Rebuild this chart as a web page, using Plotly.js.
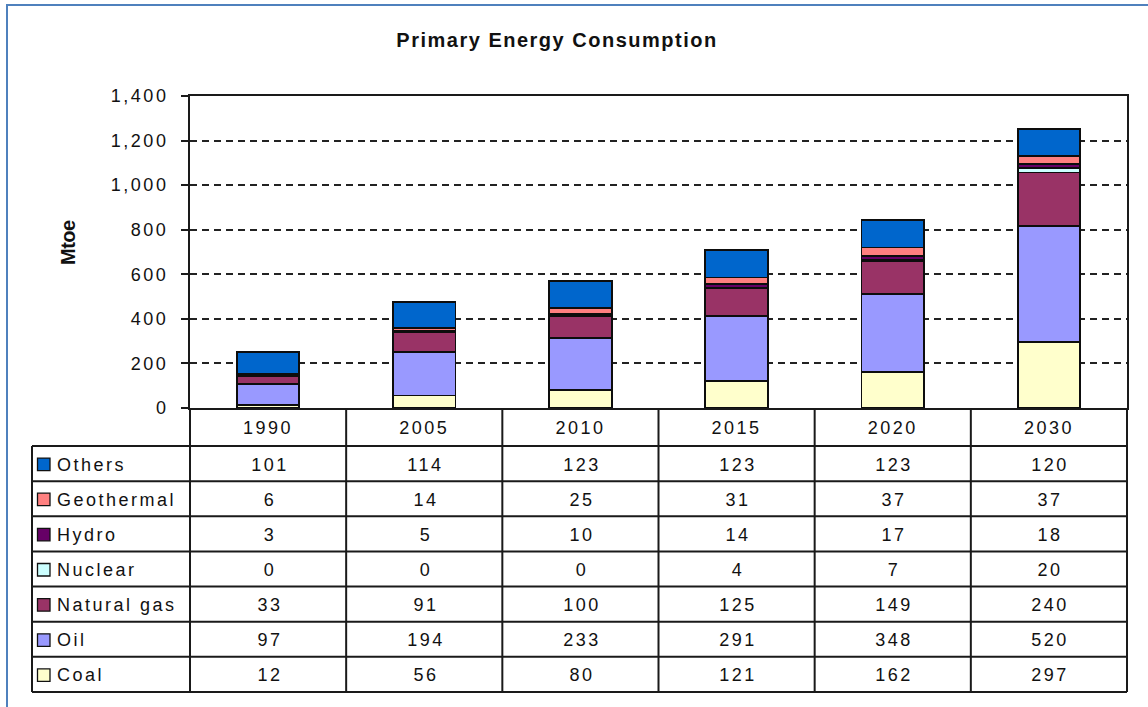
<!DOCTYPE html>
<html><head><meta charset="utf-8">
<script src="https://cdn.plot.ly/plotly-3.0.1.min.js"></script>
<style>
html,body{margin:0;padding:0;background:#fff;}
#chart text{letter-spacing:2.5px;}
#chart .gtitle{letter-spacing:1.5px;}
</style></head>
<body><div id="chart" style="width:1148px;height:707px;"></div>
<script>
// ---- data ----
const years = ['1990','2005','2010','2015','2020','2030'];
const coal = [12, 56, 80, 121, 162, 297];
const oil = [97, 194, 233, 291, 348, 520];
const naturalGas = [33, 91, 100, 125, 149, 240];
const nuclear = [0, 0, 0, 4, 7, 20];
const hydro = [3, 5, 10, 14, 17, 18];
const geothermal = [6, 14, 25, 31, 37, 37];
const others = [101, 114, 123, 123, 123, 120];

// stacking order bottom -> top
const series = [
  {name:'Coal', values:coal, color:'#FFFFCC'},
  {name:'Oil', values:oil, color:'#9999FF'},
  {name:'Natural gas', values:naturalGas, color:'#993366'},
  {name:'Nuclear', values:nuclear, color:'#CCFFFF'},
  {name:'Hydro', values:hydro, color:'#660066'},
  {name:'Geothermal', values:geothermal, color:'#FF8080'},
  {name:'Others', values:others, color:'#0066CC'}
];
const tableOrder = series.slice().reverse();

// ---- geometry (pixels) ----
const FIG_W = 1148, FIG_H = 707;
const L = 190, R = 1127, T = 96, B = 408;
const PW = R - L, PH = B - T;
const px = x => (x - L) / PW;
const py = y => (B - y) / PH;
const TABLE_TOP = 446, TABLE_BOT = 692, TABLE_LEFT = 32;
const ROW_H = (TABLE_BOT - TABLE_TOP) / 7;
const COL_W = PW / years.length;
const FONT = 'Liberation Sans, Arial, sans-serif';
const TXT = '#111111';

const traces = series.map(s => ({
  type:'bar', name:s.name, x:years, y:s.values,
  marker:{color:s.color, line:{color:'#0d0d0d', width:1.8}},
  hoverinfo:'x+y+name'
}));

const shapes = [];
const ln = (x0,y0,x1,y1) => shapes.push({type:'line', xref:'paper', yref:'paper',
  x0:px(x0), y0:py(y0), x1:px(x1), y1:py(y1), line:{color:'#1a1a1a', width:2}});

// outer blue frame
shapes.push({type:'rect', xref:'paper', yref:'paper', x0:px(7), y0:py(5), x1:px(1175), y1:py(740),
  line:{color:'#4F81BD', width:2}, fillcolor:'rgba(0,0,0,0)', layer:'below'});

// table horizontal lines
for (let r = 0; r <= 7; r++) ln(TABLE_LEFT, TABLE_TOP + r*ROW_H, R, TABLE_TOP + r*ROW_H);
// vertical lines
ln(TABLE_LEFT, TABLE_TOP, TABLE_LEFT, TABLE_BOT);
for (let c = 0; c <= years.length; c++) ln(L + c*COL_W, B, L + c*COL_W, TABLE_BOT);

const annotations = [];
tableOrder.forEach((s, r) => {
  const yc = TABLE_TOP + (r + 0.5) * ROW_H;
  shapes.push({type:'rect', xref:'paper', yref:'paper',
    x0:px(37.5), x1:px(50), y0:py(yc - 5.5), y1:py(yc + 7),
    fillcolor:s.color, line:{color:'#111111', width:1.3}});
  annotations.push({xref:'paper', yref:'paper', x:px(55), y:py(yc + 1), xanchor:'left', yanchor:'middle',
    align:'left', text:s.name, showarrow:false, font:{family:FONT, size:18, color:TXT}});
  s.values.forEach((v, c) => {
    annotations.push({xref:'paper', yref:'paper', x:px(L + (c + 0.5)*COL_W + 1.5), y:py(yc + 1),
      xanchor:'center', yanchor:'middle', text:String(v), showarrow:false,
      font:{family:FONT, size:18, color:TXT}});
  });
});

// y-axis title
annotations.push({xref:'paper', yref:'paper', x:px(68), y:py(243), xanchor:'center', yanchor:'middle',
  text:'<span style="letter-spacing:-0.5px"><b>Mtoe</b></span>', textangle:-90, showarrow:false,
  font:{family:FONT, size:20, color:TXT}});

const layout = {
  width:FIG_W, height:FIG_H,
  margin:{l:L, r:FIG_W - R, t:T, b:FIG_H - B},
  paper_bgcolor:'#ffffff', plot_bgcolor:'#ffffff',
  barmode:'stack', bargap:0.6, showlegend:false,
  title:{text:'Primary Energy Consumption', xref:'container', yref:'container',
    x:557/FIG_W, xanchor:'center', y:1 - 40/FIG_H, yanchor:'middle',
    font:{family:FONT, size:20, color:TXT, weight:'bold'}},
  xaxis:{type:'category', showline:true, linecolor:'#1a1a1a', linewidth:2, mirror:true,
    ticks:'', showgrid:false, ticklabelstandoff:2,
    tickfont:{family:FONT, size:18, color:TXT}, fixedrange:true},
  yaxis:{range:[0,1400], dtick:200, tickformat:',', showline:true, linecolor:'#1a1a1a', linewidth:2, mirror:true,
    ticks:'outside', ticklen:7, tickcolor:'#1a1a1a', tickwidth:1.5, ticklabelstandoff:9,
    showgrid:true, gridcolor:'#222222', gridwidth:1.6, griddash:'7px,5px', zeroline:false,
    tickfont:{family:FONT, size:18, color:TXT},
    fixedrange:true},
  shapes:shapes, annotations:annotations
};

Plotly.newPlot('chart', traces, layout, {displayModeBar:false});
</script>
</body></html>
